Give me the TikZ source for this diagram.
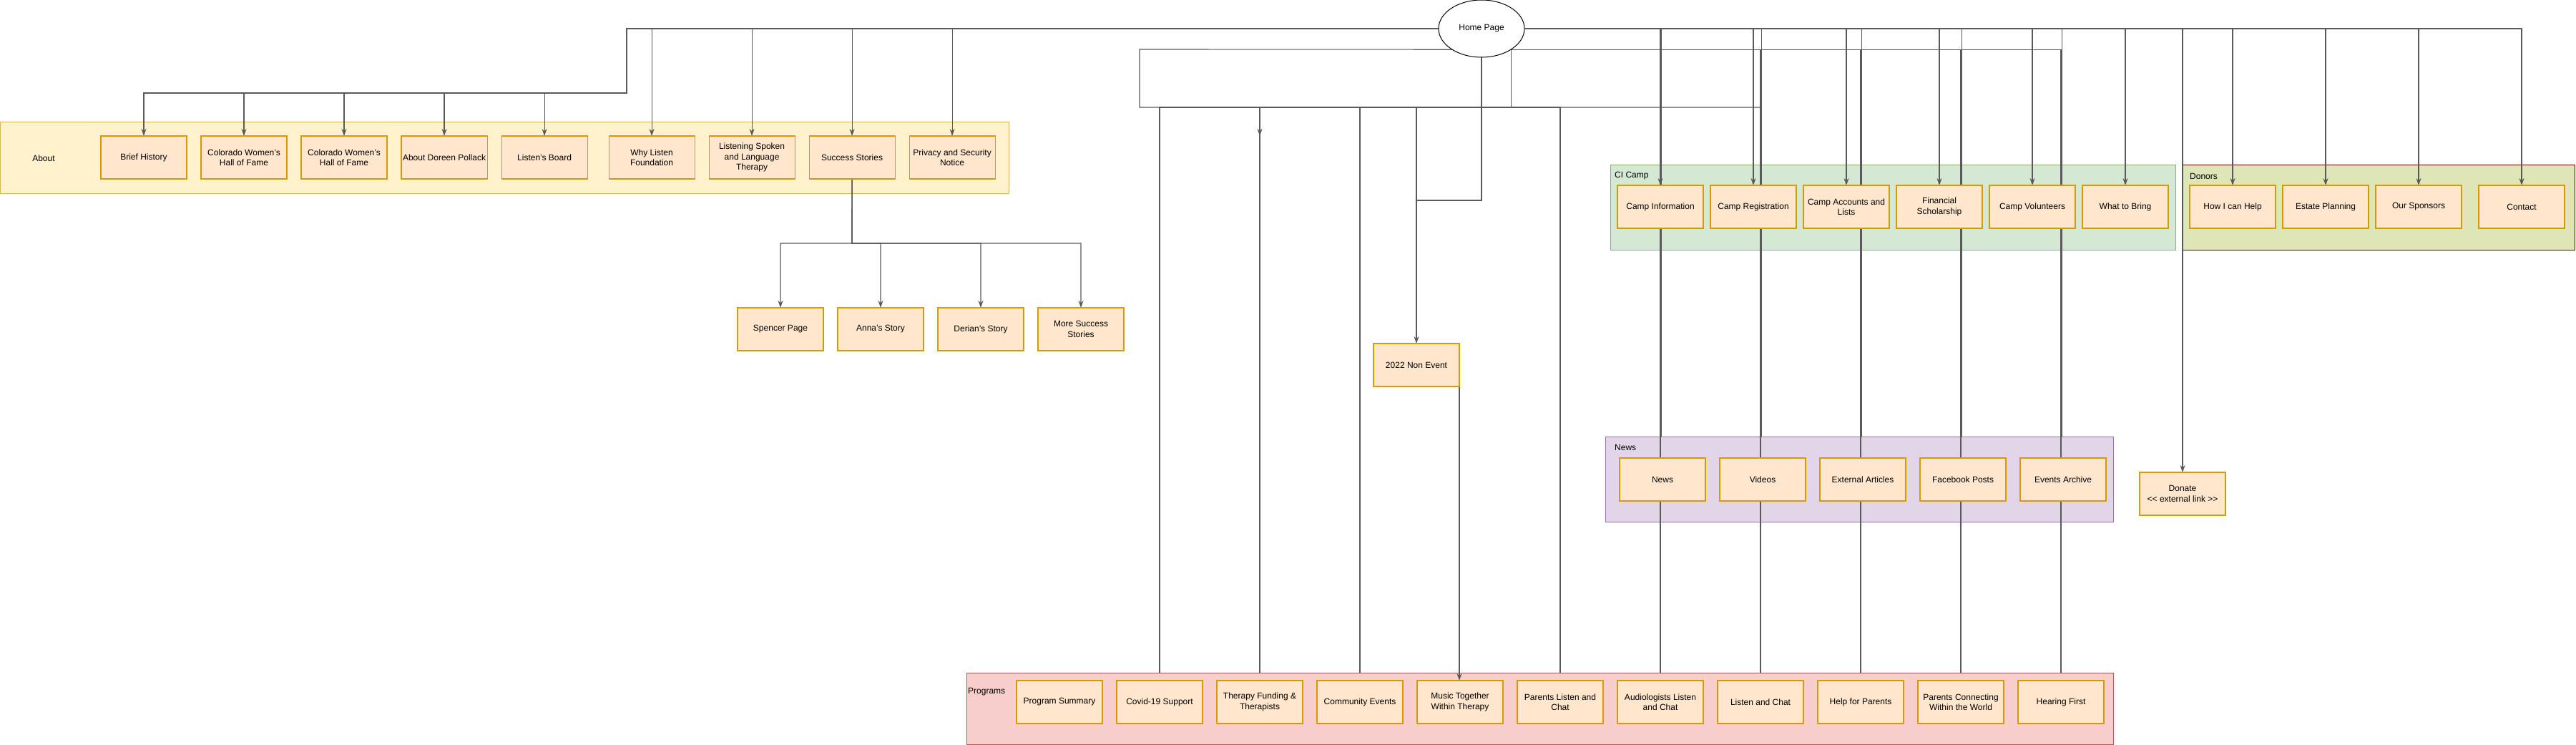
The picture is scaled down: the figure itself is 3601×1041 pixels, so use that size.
\documentclass[tikz,border=0pt]{standalone}
\usepackage{fontspec}
\setsansfont{Liberation Sans}
\definecolor{pagefill}{RGB}{255,230,204}
\definecolor{pagedraw}{RGB}{215,155,0}
\definecolor{aboutfill}{RGB}{255,242,204}
\definecolor{aboutdraw}{RGB}{214,182,86}
\definecolor{campfill}{RGB}{213,232,212}
\definecolor{campdraw}{RGB}{130,179,102}
\definecolor{donorfill}{RGB}{222,229,183}
\definecolor{donordraw}{RGB}{111,0,0}
\definecolor{newsfill}{RGB}{225,213,231}
\definecolor{newsdraw}{RGB}{150,115,166}
\definecolor{progfill}{RGB}{248,206,204}
\definecolor{progdraw}{RGB}{184,84,80}
\tikzset{every picture/.style={/utils/exec={\sffamily\fontsize{12}{14.5}\selectfont}}}
\usetikzlibrary{positioning}
\usetikzlibrary{backgrounds,arrows.meta,shapes.geometric}
\pgfdeclarelayer{wires}
\pgfsetlayers{background,wires,main}
\tikzset{
  page/.style={fill=pagefill, draw=pagedraw, line width=1.1pt, align=center, minimum width=120pt, minimum height=60pt, inner sep=2pt, outer sep=0pt},
  group/.style={line width=1pt, anchor=north west, inner sep=0pt, outer sep=0pt},
  grouplabel/.style={anchor=west, inner sep=0pt},
  wire/.style={draw=black!65, line width=1.1pt},
  >={Stealth[length=10pt,width=7pt]}
}

\begin{document}
\begin{tikzpicture}[x=1pt,y=-1pt]
  \useasboundingbox (0,0) rectangle (3601,1041);

  \node[ellipse, draw, fill=white, line width=1pt, minimum width=120pt, minimum height=80pt, inner sep=0pt] (home) at (2071,40) {Home Page};

  % about
  \node[page] (brief) at (201,220) {Brief History};
  \node[page, right=20pt of brief] (hallone) {Colorado Women's\\Hall of Fame};
  \node[page, right=20pt of hallone] (halltwo) {Colorado Women's\\Hall of Fame};
  \node[page, right=20pt of halltwo] (doreen) {About Doreen Pollack};
  \node[page, right=20pt of doreen] (board) {Listen's Board};
  \node[page, right=30pt of board] (why) {Why Listen\\Foundation};
  \node[page, right=20pt of why] (spoken) {Listening Spoken\\and Language\\Therapy};
  \node[page, right=20pt of spoken] (success) {Success Stories};
  \node[page, right=20pt of success] (privacy) {Privacy and Security\\Notice};
  \node (aboutlabel) at (61,221) {About};

  % success stories
  \node[page] (spencer) at (1091,460) {Spencer Page};
  \node[page, right=20pt of spencer] (anna) {Anna's Story};
  \node[page, right=20pt of anna] (derian) {Derian's Story};
  \node[page, right=20pt of derian] (morestories) {More Success\\Stories};

  \node[page] (nonevent) at (1980,510) {2022 Non Event};

  % ci camp
  \node[page] (campinfo) at (2321,289) {Camp Information};
  \node[page, right=10pt of campinfo] (campreg) {Camp Registration};
  \node[page, right=10pt of campreg] (campacc) {Camp Accounts and\\Lists};
  \node[page, right=10pt of campacc] (scholar) {Financial\\Scholarship};
  \node[page, right=10pt of scholar] (volunteers) {Camp Volunteers};
  \node[page, right=10pt of volunteers] (bring) {What to Bring};
  \node[grouplabel] (camplabel) at (2257,246) {CI Camp};

  % donors
  \node[page] (howhelp) at (3121,289) {How I can Help};
  \node[page, right=10pt of howhelp] (estate) {Estate Planning};
  \node[page, right=10pt of estate] (sponsors) {Our Sponsors};
  \node[page, right=24pt of sponsors] (contact) {Contact};
  \node[grouplabel] (donorlabel) at (3061,246) {Donors};

  % news
  \node[page] (news) at (2324,670) {News};
  \node[page, right=20pt of news] (videos) {Videos};
  \node[page, right=20pt of videos] (articles) {External Articles};
  \node[page, right=20pt of articles] (facebook) {Facebook Posts};
  \node[page, right=20pt of facebook] (archive) {Events Archive};
  \node[grouplabel] (newslabel) at (2257,625) {News};

  \node[page] (donate) at (3051,690) {Donate\\{<}{<} external link {>}{>}};

  % programs
  \node[page] (summary) at (1481,981) {Program Summary};
  \node[page, right=20pt of summary] (covid) {Covid-19 Support};
  \node[page, right=20pt of covid] (funding) {Therapy Funding \&\\Therapists};
  \node[page, right=20pt of funding] (community) {Community Events};
  \node[page, right=20pt of community] (music) {Music Together\\Within Therapy};
  \node[page, right=20pt of music] (parentschat) {Parents Listen and\\Chat};
  \node[page, right=20pt of parentschat] (audio) {Audiologists Listen\\and Chat};
  \node[page, right=20pt of audio] (listenchat) {Listen and Chat};
  \node[page, right=20pt of listenchat] (helpparents) {Help for Parents};
  \node[page, right=20pt of helpparents] (connecting) {Parents Connecting\\Within the World};
  \node[page, right=20pt of connecting] (hearing) {Hearing First};
  \node[grouplabel] (proglabel) at (1353,967) {Programs};

  \begin{scope}[on background layer]
    \node[group, fill=aboutfill, draw=aboutdraw, minimum width=1410pt, minimum height=100pt] (about) at (0,170) {};
    \node[group, fill=campfill, draw=campdraw, minimum width=790pt, minimum height=119pt] (camp) at (2251,230) {};
    \node[group, fill=donorfill, draw=donordraw, minimum width=548pt, minimum height=119pt] (donors) at (3051,230) {};
    \node[group, fill=newsfill, draw=newsdraw, minimum width=710pt, minimum height=119pt] (newsgrp) at (2244,610) {};
    \node[group, fill=progfill, draw=progdraw, minimum width=1603pt, minimum height=100pt] (programs) at (1351,940) {};
  \end{scope}

  \begin{pgfonlayer}{wires}
    \coordinate (aboutbus) at (876,130);
    \coordinate (storybus) at (1191,340);
    \coordinate (hpout) at (home.-35);
    \coordinate (highbus) at (1593,69);
    \coordinate (lowbus) at (1593,150);
    \coordinate (eventbus) at (1980,280);
    \coordinate (stray) at (1761,190);

    \foreach \p in {brief,hallone,halltwo,doreen,board}
      \draw[wire,->] (home.west) -| (aboutbus) -| (\p.north);
    \foreach \p in {why,spoken,success,privacy}
      \draw[wire,->] (home.west) -| (\p.north);

    \foreach \p in {spencer,anna,derian,morestories}
      \draw[wire,->] (success.south) -- (storybus) -| (\p.north);

    \foreach \p in {campinfo,campreg,campacc,scholar,volunteers,bring,donate,howhelp,estate,sponsors,contact}
      \draw[wire,->] (home.east) -| (\p.north);

    \foreach \p in {news,videos,articles,facebook,archive}
      \draw[wire] (home.east) -| ([xshift=-1.5pt]\p.north |- newsgrp.north);

    % programs
    \foreach \p in {audio,listenchat,helpparents,connecting,hearing}
      \draw[wire] (hpout) -| (\p.north |- programs.north);
    \draw[wire] (hpout) -- (highbus) -- (lowbus) -- (lowbus -| listenchat.north);
    \draw[wire] (hpout) -- (hpout |- lowbus);
    \foreach \p in {covid,funding,community,parentschat}
      \draw[wire] (hpout |- lowbus) -| (\p.north |- programs.north);
    \draw[wire,->] (lowbus -| funding.north) -- (stray);
    \draw[wire] (lowbus -| nonevent.north) -- (eventbus);

    \draw[wire,->] (home.south) |- (eventbus) -- (nonevent.north);
    \draw[wire,->] (nonevent.south east) -- (nonevent.south east |- music.north);
  \end{pgfonlayer}
\end{tikzpicture}
\end{document}
